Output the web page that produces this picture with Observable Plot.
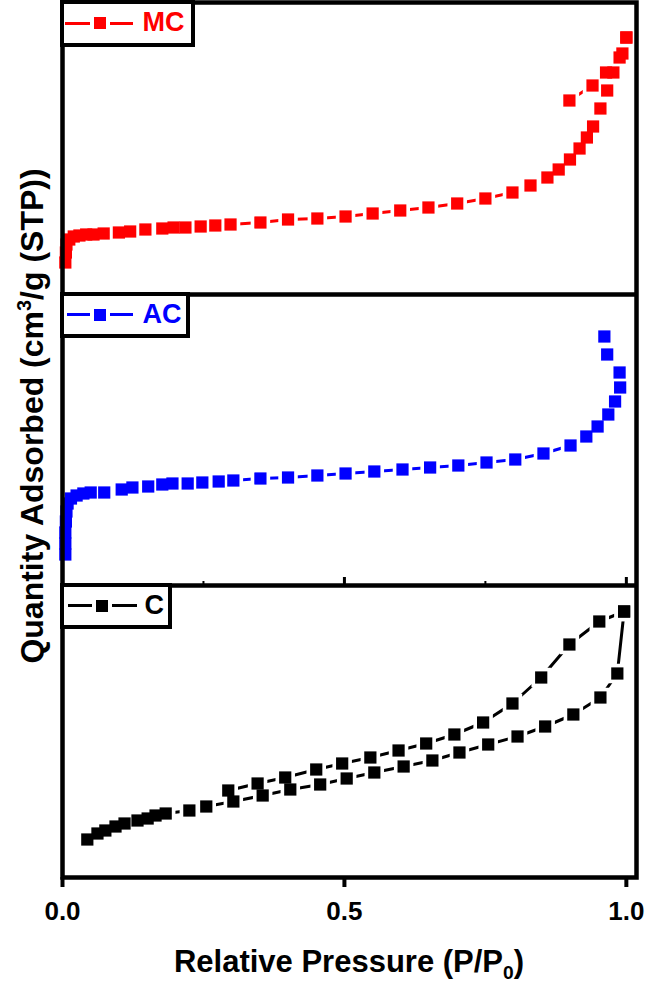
<!DOCTYPE html>
<html>
<head>
<meta charset="utf-8">
<script src="https://cdn.jsdelivr.net/npm/d3@7"></script>
<script src="https://cdn.jsdelivr.net/npm/@observablehq/plot@0.6"></script>
<style>
  body { margin: 0; background: #fff; }
  #chart { position: relative; width: 645px; height: 986px; font-family: "Liberation Sans", Arial, sans-serif; overflow: hidden; }
  .panel { position: absolute; left: 0; }
  .legend { position: absolute; box-sizing: border-box; border: 4.5px solid #000; background: #fff; }
  .legend .ln { position: absolute; height: 3px; }
  .legend .sq { position: absolute; width: 12px; height: 12px; box-shadow: 0 0 0 4px #fff; }
  .legend .lab { position: absolute; font-weight: bold; font-size: 27px; line-height: 1; }
  .ylab { position: absolute; left: 32px; top: 416px; transform: translate(-50%, -50%) rotate(-90deg);
          white-space: nowrap; font-weight: bold; font-size: 32px; line-height: 1.15; color: #000; }
  .xlab { position: absolute; left: 62px; width: 574px; top: 946px; text-align: center;
          white-space: nowrap; font-weight: bold; font-size: 31px; line-height: 1; color: #000; }
  sup, sub { font-size: 0.62em; line-height: 0; }
</style>
</head>
<body>
<div id="chart"></div>
<script>
// ---------- data (relative pressure P/P0, quantity adsorbed, arbitrary offset units) ----------
const seriesNames = ["MC", "AC", "C"];
const seriesColors = ["#ff0000", "#0000ff", "#000000"];
const xTickValues = [0, 0.5, 1.0];
const xMinorTicks = [0.25, 0.75];

// MC adsorption / desorption
const mcAdsP = [0.005, 0.006, 0.007, 0.012, 0.02, 0.03, 0.042, 0.055, 0.073, 0.1, 0.12, 0.147, 0.177, 0.197, 0.218, 0.245, 0.271, 0.298, 0.351, 0.40, 0.452, 0.502, 0.55, 0.599, 0.649, 0.70, 0.75, 0.798, 0.83, 0.86, 0.88, 0.90, 0.917, 0.93, 0.941, 0.954, 0.966, 0.977, 0.988, 1.0];
const mcAdsQ = [32, 42, 50, 55, 58, 59, 60, 60, 61, 62, 63, 65, 66, 67, 67, 68, 69, 70, 72, 75, 76, 78, 81, 84, 87, 91, 96, 102, 109, 117, 125, 135, 146, 157, 168, 186, 204, 222, 237, 257];
const mcDesP = [1.0, 0.993, 0.964, 0.94, 0.899];
const mcDesQ = [257, 241, 222, 209, 194];

// AC isotherm
const acP = [0.005, 0.005, 0.005, 0.006, 0.007, 0.009, 0.015, 0.025, 0.037, 0.05, 0.074, 0.105, 0.124, 0.152, 0.177, 0.195, 0.222, 0.248, 0.277, 0.303, 0.351, 0.40, 0.452, 0.502, 0.553, 0.603, 0.652, 0.702, 0.752, 0.803, 0.853, 0.901, 0.929, 0.949, 0.968, 0.98, 0.989, 0.988, 0.966, 0.961];
const acQ = [31, 42, 53, 64, 74, 82, 87, 90, 92, 93, 93, 96, 98, 99, 101, 102, 102, 103, 104, 105, 107, 108, 110, 112, 114, 116, 118, 120, 123, 126, 132, 140, 149, 159, 171, 184, 198, 213, 231, 249];

// C adsorption / desorption
const cAdsP = [0.044, 0.062, 0.076, 0.094, 0.11, 0.133, 0.151, 0.165, 0.183, 0.225, 0.255, 0.303, 0.355, 0.404, 0.457, 0.504, 0.553, 0.605, 0.656, 0.704, 0.755, 0.807, 0.856, 0.906, 0.954, 0.984, 0.996];
const cAdsQ = [38, 44, 47, 51, 54, 57, 59, 62, 64, 67, 71, 76, 82, 88, 93, 99, 105, 111, 117, 125, 133, 141, 151, 163, 180, 204, 266];
const cDesP = [0.996, 0.952, 0.899, 0.849, 0.798, 0.746, 0.695, 0.645, 0.596, 0.546, 0.496, 0.45, 0.395, 0.346, 0.294];
const cDesQ = [266, 256, 233, 200, 174, 155, 143, 134, 127, 120, 114, 108, 100, 94, 87];

// ---------- build tables ----------
function rows(P, Q, branch) { return P.map((p, i) => ({p, q: Q[i], branch})); }
const mcData = [...rows(mcAdsP, mcAdsQ, "ads"), ...rows(mcDesP, mcDesQ, "des")];
const acData = rows(acP, acQ, "ads");
const cData = [...rows(cAdsP, cAdsQ, "ads"), ...rows(cDesP, cDesQ, "des")];

const chart = document.getElementById("chart");
const FONT = "Liberation Sans, Arial, sans-serif";
const X_DOMAIN = [0, 1.018];

function makePanel({data, color, top, height, marginTop, marginBottom, yMax, extra}) {
  const plot = Plot.plot({
    width: 645,
    height,
    marginLeft: 62,
    marginRight: 9,
    marginTop,
    marginBottom,
    style: {fontFamily: FONT, background: "transparent", color: "#000"},
    x: {domain: X_DOMAIN},
    y: {domain: [0, yMax], axis: null},
    marks: [
      Plot.line(data, {x: "p", y: "q", z: "branch", stroke: color, strokeWidth: 3}),
      Plot.dot(data, {x: "p", y: "q", symbol: "square", r: 11, fill: "white", stroke: null}),
      Plot.dot(data, {x: "p", y: "q", symbol: "square", r: 6.9, fill: color, stroke: null}),
      ...extra,
      Plot.frame({stroke: "#000", strokeWidth: 4.5})
    ]
  });
  plot.classList.add("panel");
  plot.style.top = top + "px";
  chart.appendChild(plot);
}

const noText = () => "";

// top: MC
makePanel({
  data: mcData, color: seriesColors[0], top: 0, height: 294, marginTop: 2, marginBottom: 0, yMax: 292,
  extra: [Plot.axisX({ticks: [], tickSize: 0, tickFormat: noText, label: null})]
});
// middle: AC (inner ticks on its bottom edge)
makePanel({
  data: acData, color: seriesColors[1], top: 294, height: 291, marginTop: 0, marginBottom: 0, yMax: 291,
  extra: [
    Plot.axisX({ticks: xTickValues, tickSize: -8, strokeWidth: 3, tickFormat: noText, label: null}),
    Plot.axisX({ticks: xMinorTicks, tickSize: -4, strokeWidth: 2, tickFormat: noText, label: null})
  ]
});
// bottom: C with the x axis
makePanel({
  data: cData, color: seriesColors[2], top: 585, height: 360, marginTop: 0, marginBottom: 68, yMax: 292,
  extra: [
    Plot.axisX({ticks: xTickValues, tickSize: 10, strokeWidth: 4, tickPadding: 14,
                tickFormat: d3.format(".1f"), fontSize: 26, fontWeight: "bold", label: null})
  ]
});

// ---------- legends ----------
const legendBoxes = [
  {left: 60, top: 0, width: 135, height: 47, lineL: 65, lineR: 133, sq: 94, text: 143},
  {left: 60, top: 292, width: 130, height: 46, lineL: 67, lineR: 133, sq: 94, text: 143},
  {left: 60, top: 583, width: 112, height: 46, lineL: 68, lineR: 137, sq: 96, text: 145}
];
legendBoxes.forEach((b, i) => {
  const d = document.createElement("div");
  d.className = "legend";
  Object.assign(d.style, {left: b.left + "px", top: b.top + "px", width: b.width + "px", height: b.height + "px"});
  const inner = b.height - 9;
  const cy = inner / 2;
  const ln = document.createElement("div");
  ln.className = "ln";
  Object.assign(ln.style, {left: (b.lineL - b.left - 4.5) + "px", width: (b.lineR - b.lineL) + "px",
                           top: (cy - 1.5) + "px", background: seriesColors[i]});
  const sq = document.createElement("div");
  sq.className = "sq";
  Object.assign(sq.style, {left: (b.sq - b.left - 4.5) + "px", top: (cy - 6) + "px", background: seriesColors[i]});
  const t = document.createElement("div");
  t.className = "lab";
  t.textContent = seriesNames[i];
  Object.assign(t.style, {left: (b.text - b.left - 4.5) + "px", top: (cy - 14) + "px", color: seriesColors[i]});
  d.append(ln, sq, t);
  chart.appendChild(d);
});

// ---------- axis titles ----------
const yl = document.createElement("div");
yl.className = "ylab";
yl.innerHTML = "Quantity Adsorbed (cm<sup>3</sup>/g (STP))";
chart.appendChild(yl);

const xl = document.createElement("div");
xl.className = "xlab";
xl.innerHTML = "Relative Pressure (P/P<sub>0</sub>)";
chart.appendChild(xl);
</script>
</body>
</html>
